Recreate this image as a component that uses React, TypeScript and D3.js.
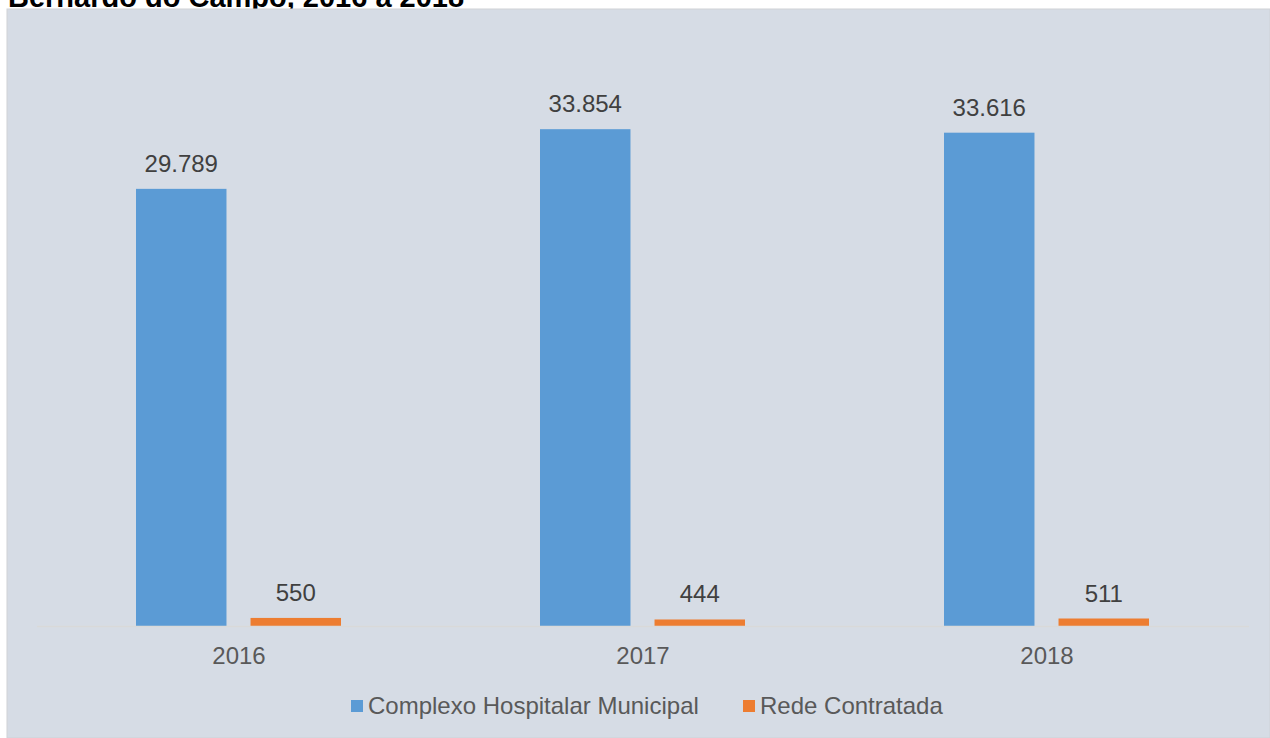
import React from "react";
import * as d3 from "d3";

const years = ["2016", "2017", "2018"];
const seriesNames = ["Complexo Hospitalar Municipal", "Rede Contratada"];
const complexoValues = [29789, 33854, 33616];
const redeValues = [550, 444, 511];
const seriesColors = ["#5b9bd5", "#ed7d31"];

const W = 1270;
const H = 738;
const baseY = 626;

const fmt = (v: number) => d3.format(",")(v).replace(/,/g, ".");

const App = () => {
  const x = d3.scaleBand().domain(years).range([37, 1249]).paddingInner(0).paddingOuter(0);
  const inner = d3
    .scaleBand()
    .domain(seriesNames)
    .range([99, x.bandwidth() - 100])
    .paddingInner(0.21);
  const y = d3.scaleLinear().domain([0, 40000]).range([baseY, 39]);
  const seriesValues = [complexoValues, redeValues];
  const font = "Arial, 'Liberation Sans', sans-serif";

  return (
    <svg
      width={W}
      height={H}
      style={{ position: "absolute", left: 0, top: 0, display: "block" }}
      fontFamily={font}
    >
      <rect x={0} y={0} width={W} height={H} fill="#ffffff" />
      {/* second line of the title, the first one is above the page */}
      <text x={8} y={7} fontSize={29} fontWeight="bold" fill="#000">
        Bernardo do Campo, 2016 a 2018
      </text>
      {/* chart area */}
      <rect x={7} y={9} width={W - 7} height={H - 9} fill="#d6dce5" stroke="#cfd2d6" strokeWidth={1} />

      {/* bars */}
      {seriesNames.map((s, si) =>
        years.map((yr, i) => {
          const v = seriesValues[si][i];
          const bx = (x(yr) || 0) + (inner(s) || 0);
          return (
            <g key={s + yr}>
              <rect
                x={bx}
                y={y(v)}
                width={inner.bandwidth()}
                height={baseY - y(v)}
                fill={seriesColors[si]}
              />
              <text
                x={bx + inner.bandwidth() / 2}
                y={y(v) - 17}
                textAnchor="middle"
                fontSize={24}
                fill="#404040"
              >
                {fmt(v)}
              </text>
            </g>
          );
        })
      )}

      {/* axis line */}
      <line x1={37} x2={1249} y1={baseY + 0.5} y2={baseY + 0.5} stroke="#d9d9d9" strokeWidth={1.5} />

      {/* category labels */}
      {years.map((yr) => (
        <text
          key={yr}
          x={(x(yr) || 0) + x.bandwidth() / 2}
          y={664}
          textAnchor="middle"
          fontSize={24}
          fill="#595959"
        >
          {yr}
        </text>
      ))}

      {/* legend */}
      {seriesNames.map((s, si) => {
        const lx = si === 0 ? 351 : 743;
        return (
          <g key={s}>
            <rect x={lx} y={700} width={12} height={12} fill={seriesColors[si]} />
            <text x={lx + 17} y={714} fontSize={24} fill="#595959">
              {s}
            </text>
          </g>
        );
      })}
    </svg>
  );
};

export default App;
